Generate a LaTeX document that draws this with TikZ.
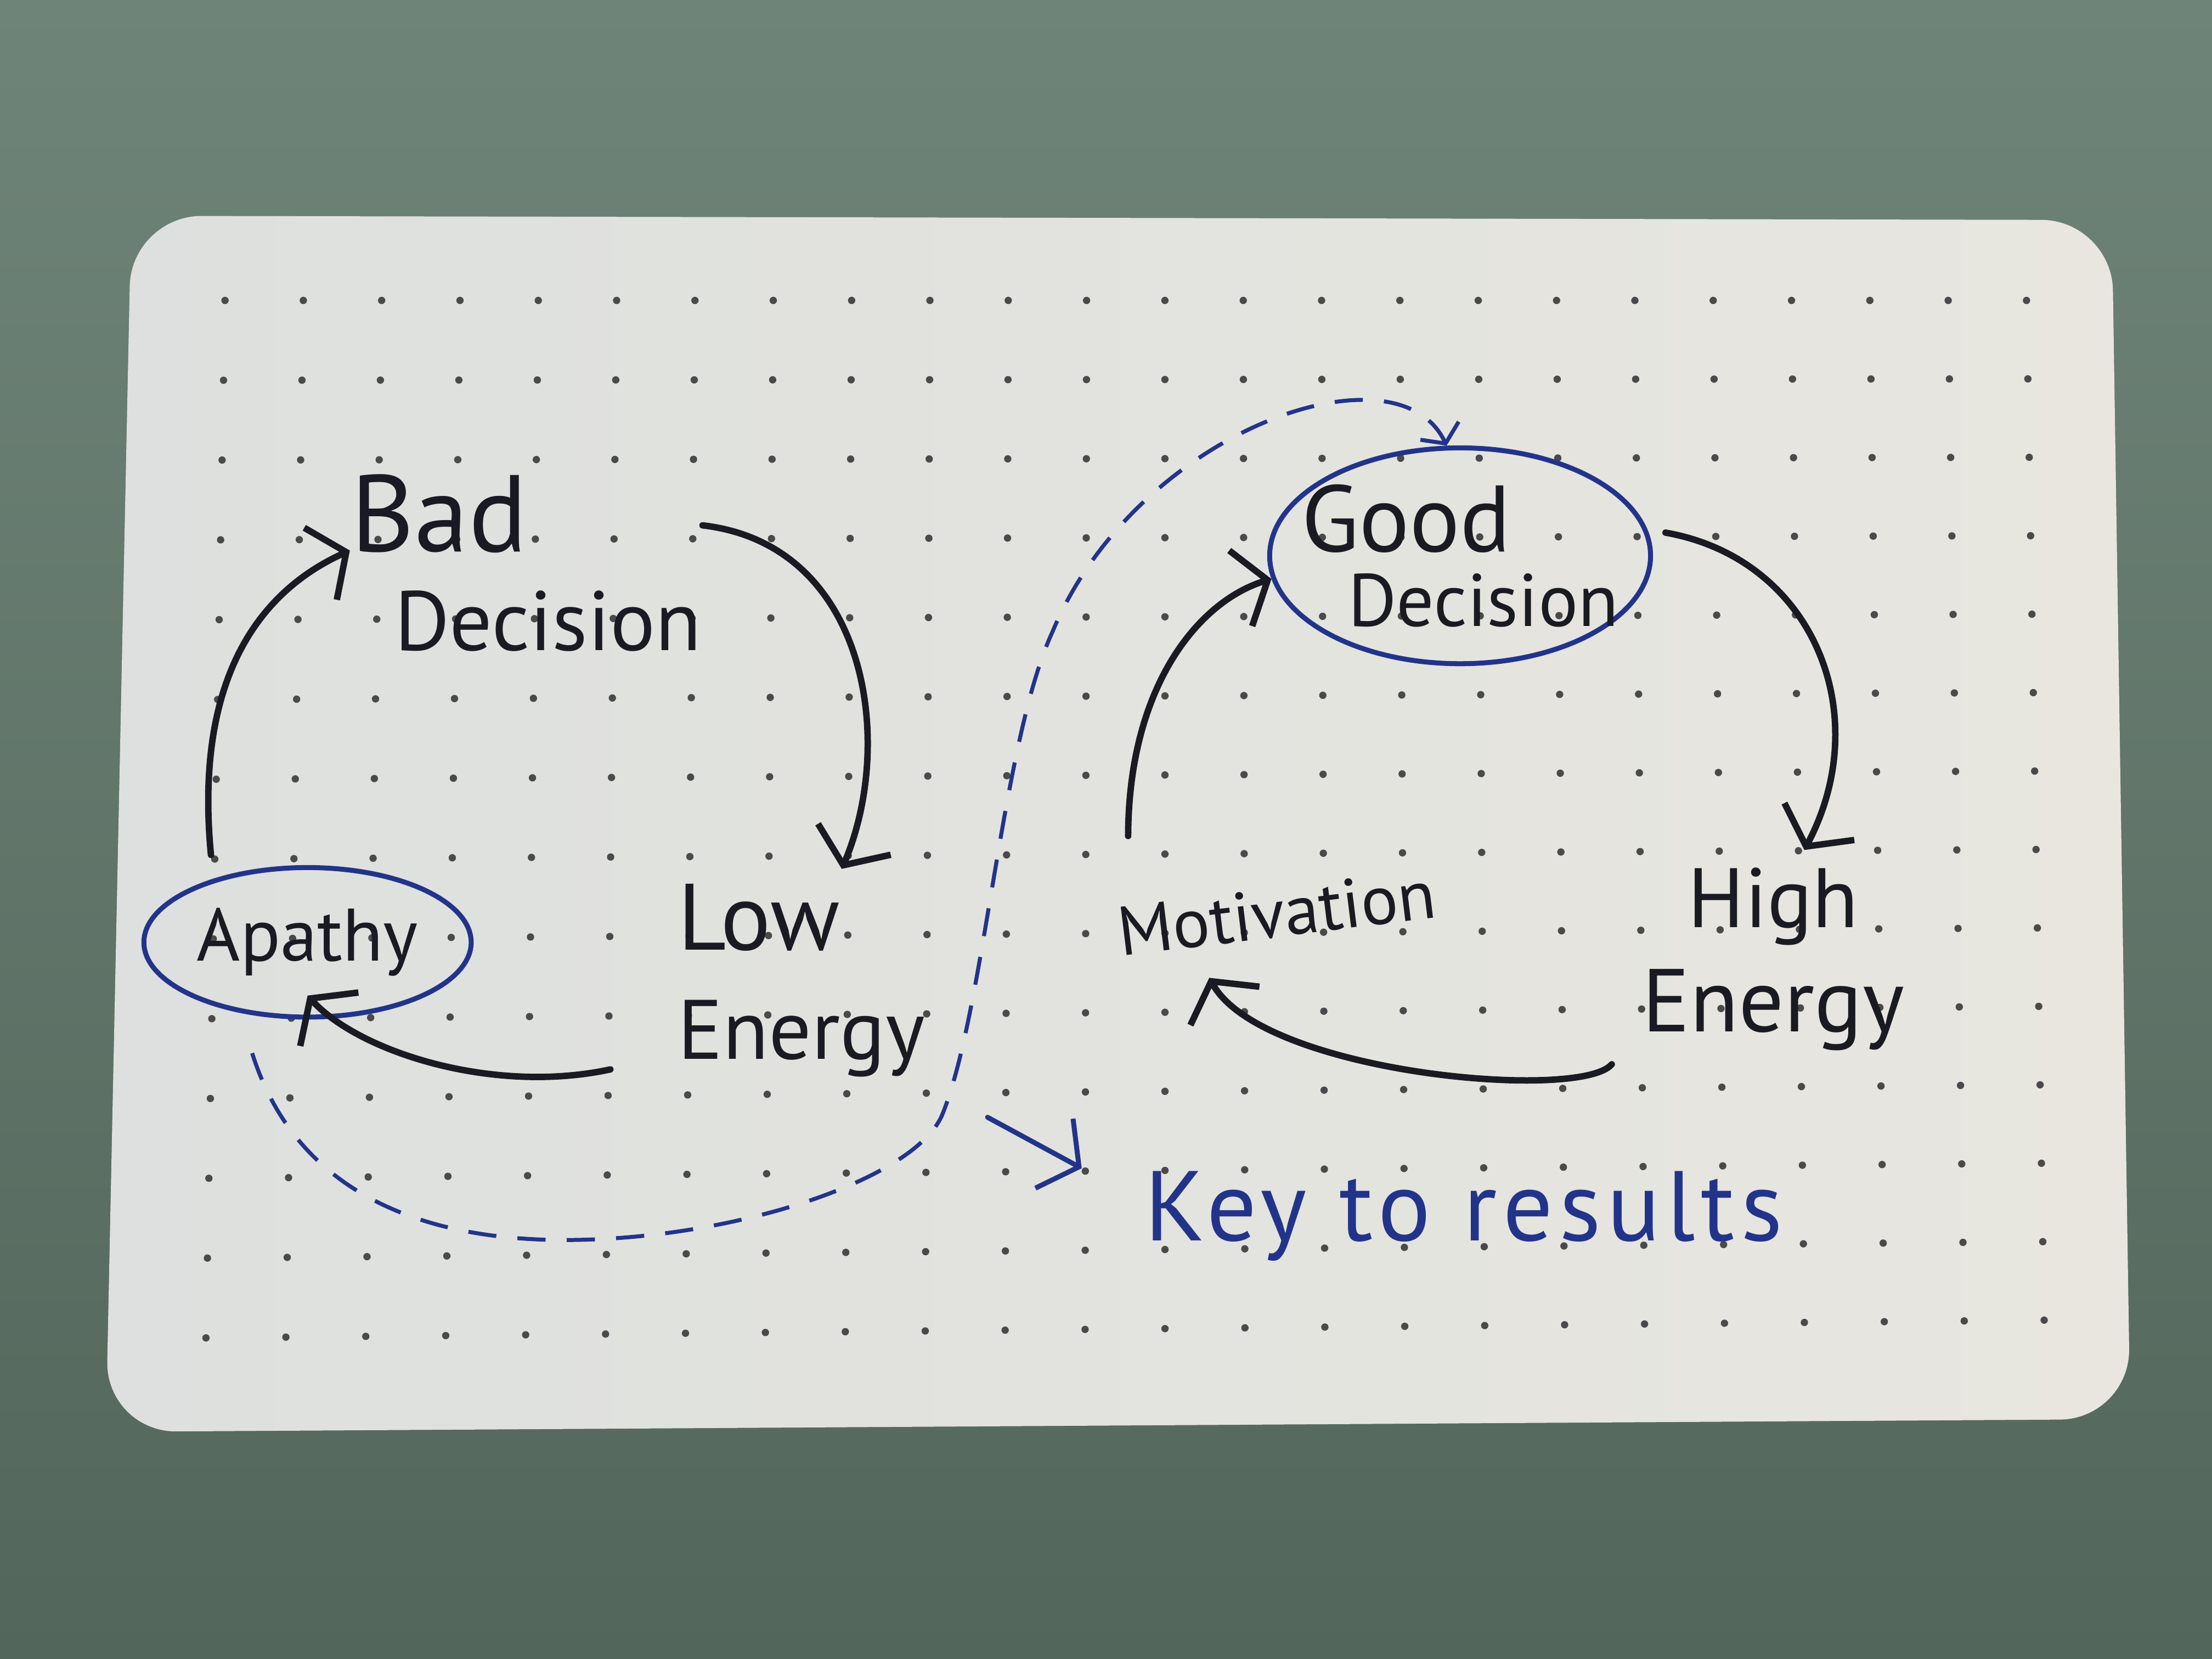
\documentclass[tikz,border=0pt]{standalone}
\usepackage{xcolor}
\usepackage{fontspec}
\setmainfont{PT Sans}
\usepackage{tikz}
\usetikzlibrary{positioning,shapes,arrows.meta,calc}

\definecolor{felt}{HTML}{6F8478}
\definecolor{feltdark}{HTML}{53665B}
\definecolor{cardleft}{HTML}{DDE0DE}
\definecolor{cardright}{HTML}{E8E6DF}
\definecolor{ink}{HTML}{1A1A22}
\definecolor{blueink}{HTML}{22348A}
\definecolor{dotgray}{HTML}{4A4A4A}

\begin{document}
\begin{tikzpicture}[
    >={Straight Barb[length=2mm,width=5.6mm]},
    word/.style={text=ink, inner sep=0pt, align=center, font=\fontsize{17}{21}\selectfont},
    circled/.style={word, ellipse, draw=blueink, line width=1pt},
    cyc/.style={->, draw=ink, line width=1.3pt, line cap=round},
    keyline/.style={->, draw=blueink, line width=1pt, line cap=round},
    dashline/.style={-{Straight Barb[length=1mm,width=3mm]}, draw=blueink, line width=0.8pt, dash pattern=on 2mm off 1.5mm}
]
    \useasboundingbox (0,0) rectangle (15.68,11.76);
    \shade[top color=felt, bottom color=feltdark] (0,0) rectangle (15.68,11.76);
    \shade[left color=cardleft, right color=cardright, rounded corners=0.5cm]
        (0.93,10.23) -- (14.97,10.20) -- (15.10,1.70) -- (0.75,1.61) -- cycle;
    \foreach \i in {0,...,23}
        \foreach \j in {0,...,13} {
            \pgfmathsetmacro{\u}{\i/23}
            \pgfmathsetmacro{\v}{\j/13}
            \fill[dotgray] ({(1-\v)*(1.595+12.77*\u)+\v*(1.46+13.03*\u)}, {(1-\v)*9.63+\v*(2.276+0.126*\u)}) circle (0.026);
        }

    \node[circled, font=\fontsize{15}{18}\selectfont, minimum width=2.32cm, minimum height=1.06cm] (apathy) at (2.18,5.08) {Apathy};
    \node[word, align=left, font=\fontsize{17}{20}\selectfont] (bad) at (3.73,7.77) {{\fontsize{22}{22}\selectfont Bad}\\\hspace*{0.31cm}Decision};
    \node[word, align=left, font=\fontsize{17}{22}\selectfont] (low) at (5.68,4.81) {{\fontsize{19}{22}\selectfont Low}\\Energy};
    \node[circled, align=left, font=\fontsize{15}{15}\selectfont, inner xsep=-2mm, minimum width=2.70cm, minimum height=1.53cm] (good) at (10.35,7.82) {{\fontsize{19}{15}\selectfont Good}\\\hspace*{0.33cm}Decision};
    \node[word, font=\fontsize{14}{16}\selectfont, rotate=7] (motivation) at (9.05,5.29) {Motivation};
    \node[word] (high) at (12.57,4.96) {High\\{\fontsize{18}{21}\selectfont Energy}};
    \node[word, text=blueink, font=\fontsize{20}{24}\selectfont\addfontfeatures{LetterSpace=6}] (key) at (10.375,3.14) {Key to results};
    \coordinate (keytail) at (7.00,3.84);

    \draw[cyc, shorten <=1.7mm] (apathy.146) .. controls (1.38,6.90) and (1.80,7.55) .. (bad.176);
    \draw[cyc] (bad.12) .. controls (6.15,7.90) and (6.35,6.50) .. ([shift={(-0.5mm,1mm)}]low.64);
    \draw[cyc] ([shift={(-4.7mm,0.6mm)}]low.south west) .. controls (3.50,4.00) and (2.55,4.30) .. ([yshift=1.7mm]apathy.south);
    \draw[cyc] ([shift={(1mm,5mm)}]motivation.north west) .. controls (8.00,6.90) and (8.50,7.50) .. (good.187);
    \draw[cyc, shorten <=1.3mm] (good.8) .. controls (12.85,7.80) and (13.30,6.70) .. ([shift={(2.2mm,1.2mm)}]high.north);
    \draw[cyc] ([shift={(-2.1mm,-0.9mm)}]high.south west) .. controls (11.20,3.95) and (8.95,4.15) .. ([shift={(6.3mm,-1.4mm)}]motivation.south west);

    \draw[dashline, shorten <=3mm] (apathy.226) .. controls (2.10,3.30) and (3.00,2.97) .. (4.00,2.97)
        .. controls (5.20,2.97) and (6.49,3.40) .. (6.68,3.86)
        .. controls (6.98,4.60) and (7.10,6.50) .. (7.46,7.28)
        .. controls (8.05,8.70) and (9.90,9.35) .. (good.97);
    \draw[keyline, shorten >=5mm] (keytail) -- ([yshift=1mm]key.west);
\end{tikzpicture}
\end{document}
